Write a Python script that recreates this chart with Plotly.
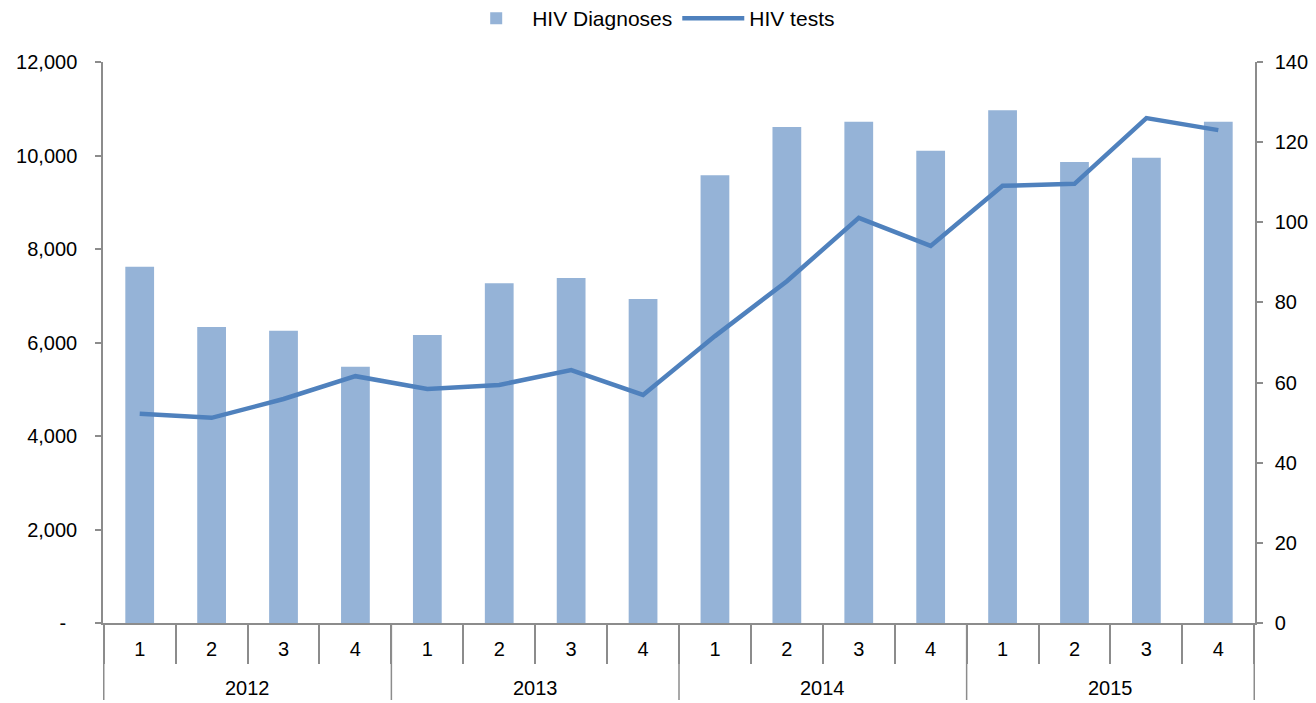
import plotly.graph_objects as go

years = ["2012"] * 4 + ["2013"] * 4 + ["2014"] * 4 + ["2015"] * 4
quarters = ["1", "2", "3", "4"] * 4
hiv_diagnoses = [7620, 6330, 6250, 5480, 6160, 7270, 7380, 6930,
                 9580, 10610, 10720, 10100, 10970, 9860, 9950, 10720]
hiv_tests = [52.2, 51.2, 55.9, 61.6, 58.4, 59.4, 63.1, 56.9,
             71.6, 85.3, 101.1, 94.1, 109.1, 109.6, 126.0, 123.0]
year_labels = ["2012", "2013", "2014", "2015"]

left_ticks = [0, 2000, 4000, 6000, 8000, 10000, 12000]
left_text = ["-\u00a0\u00a0", "2,000", "4,000", "6,000", "8,000", "10,000", "12,000"]
right_ticks = [0, 20, 40, 60, 80, 100, 120, 140]

cats = [f"{y} Q{q}" for y, q in zip(years, quarters)]

font = "Liberation Sans, Arial, sans-serif"
axis_col = "#8c8c8c"
W, H = 1308, 695
M_L, M_T, M_R, M_B = 95, 54, 61, 80
plot_h = H - M_T - M_B

fig = go.Figure()
fig.add_trace(go.Bar(
    x=cats, y=hiv_diagnoses, name="HIV Diagnoses",
    marker=dict(color="#95B3D7", line=dict(width=0)), yaxis="y",
))
fig.add_trace(go.Scatter(
    x=cats, y=hiv_tests, name="HIV tests", mode="lines",
    line=dict(color="#4F81BD", width=4.5), yaxis="y2",
))

# year group labels and dividers
n_per = 4
for i, yl in enumerate(year_labels):
    mid = i * n_per + (n_per - 1) / 2
    fig.add_annotation(x=mid, xref="x", y=-65 / plot_h, yref="paper",
                       text=yl, showarrow=False, yanchor="middle",
                       font=dict(size=20, family=font, color="#000"))
for i in range(len(year_labels) + 1):
    xb = i * n_per - 0.5
    fig.add_shape(type="line", xref="x", yref="paper", x0=xb, x1=xb,
                  y0=0, y1=-77 / plot_h, line=dict(color=axis_col, width=1.5))

fig.update_layout(
    width=W, height=H,
    margin=dict(l=M_L, r=M_R, t=M_T, b=M_B, autoexpand=False),
    paper_bgcolor="white", plot_bgcolor="white",
    font=dict(family=font, size=20, color="#000000"),
    bargap=0.6,
    showlegend=True,
    legend=dict(orientation="h", x=0.475, xanchor="center", y=1 + 64 / plot_h,
                yanchor="top", font=dict(size=21), traceorder="normal",
                itemwidth=62, bgcolor="rgba(0,0,0,0)"),
    xaxis=dict(
        type="category", categoryorder="array", categoryarray=cats,
        tickvals=cats, ticktext=quarters, tickson="boundaries",
        showline=True, linecolor=axis_col, linewidth=1.5,
        ticks="outside", ticklen=39, tickcolor=axis_col, tickwidth=1.5,
        showgrid=False, zeroline=False, tickfont=dict(size=20),
        ticklabelstandoff=7,
    ),
    yaxis=dict(
        range=[0, 12000], tickvals=left_ticks, ticktext=left_text,
        showline=True, linecolor=axis_col, linewidth=1.5,
        ticks="outside", ticklen=6, tickcolor=axis_col, tickwidth=1.5,
        showgrid=False, zeroline=False, ticklabelstandoff=14,
    ),
    yaxis2=dict(
        range=[0, 140], tickvals=right_ticks, overlaying="y", side="right",
        showline=True, linecolor=axis_col, linewidth=1.5,
        ticks="outside", ticklen=6, tickcolor=axis_col, tickwidth=1.5,
        showgrid=False, zeroline=False, ticklabelstandoff=8,
    ),
)

fig.write_html("out.html")
